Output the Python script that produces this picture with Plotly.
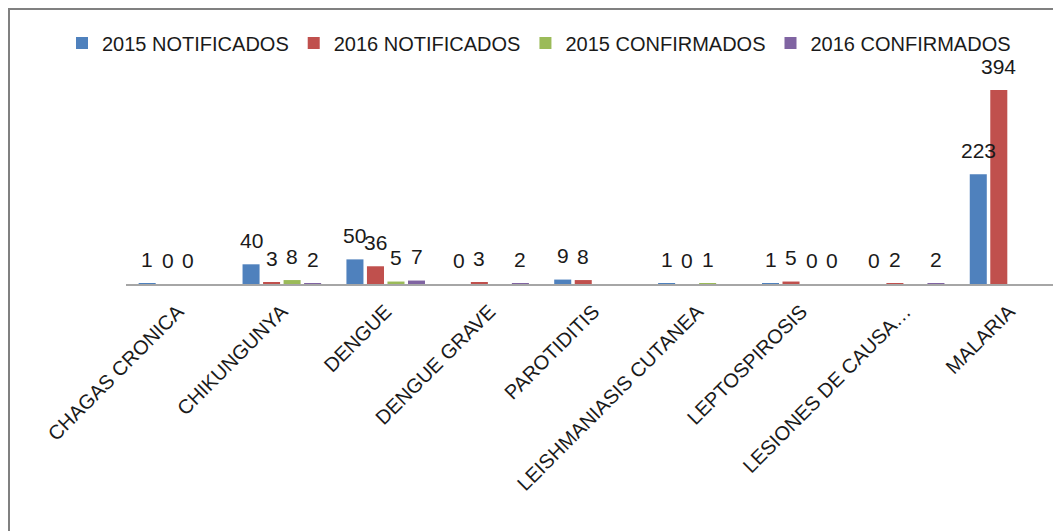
import plotly.graph_objects as go

categories = ["CHAGAS CRONICA", "CHIKUNGUNYA", "DENGUE", "DENGUE GRAVE", "PAROTIDITIS",
              "LEISHMANIASIS CUTANEA", "LEPTOSPIROSIS", "LESIONES DE CAUSA…", "MALARIA"]
series_names = ["2015 NOTIFICADOS", "2016 NOTIFICADOS", "2015 CONFIRMADOS", "2016 CONFIRMADOS"]
notif_2015 = [1, 40, 50, 0, 9, 1, 1, 0, 223]
notif_2016 = [0, 3, 36, 3, 8, 0, 5, 2, 394]
conf_2015 = [0, 8, 5, None, None, 1, 0, None, None]
conf_2016 = [None, 2, 7, 2, None, None, 0, 2, None]
colors = ["#4F81BD", "#C0504D", "#9BBB59", "#8064A2"]

series = [notif_2015, notif_2016, conf_2015, conf_2016]

# the page body has an 8px margin, so the figure is drawn offset by 8px
W, H = 1061, 531
ML, MR, MT, MB = 118, 8, 52, 255
BARGAP, GROUPGAP = 0.21, 0.17
font_family = "Liberation Sans, Arial, sans-serif"

fig = go.Figure()
for name, vals, col in zip(series_names, series, colors):
    fig.add_trace(go.Bar(
        x=categories, y=vals, name=name,
        marker=dict(color=col, line=dict(width=0)),
    ))

# data labels placed above each bar of its group
n = len(series)
slot = (1 - BARGAP) / n
annotations = []
for k, vals in enumerate(series):
    off = -(1 - BARGAP) / 2 + (k + 0.5) * slot
    for i, v in enumerate(vals):
        if v is None:
            continue
        annotations.append(dict(
            x=i + off, y=v, xref="x", yref="y", text=str(v), showarrow=False,
            yanchor="middle", xanchor="center", yshift=24,
            font=dict(size=21, color="#1a1a1a", family=font_family),
        ))

plot_h = H - MT - MB
plot_w = W - ML - MR
frame = dict(type="rect", xref="paper", yref="paper",
             x0=(1 - ML) / plot_w, x1=(W + 20 - ML) / plot_w,
             y0=-(H + 20 - (H - MB)) / plot_h, y1=((H - MB) - 1) / plot_h,
             line=dict(color="#808080", width=2), fillcolor="rgba(0,0,0,0)", layer="below")

fig.update_layout(
    width=W, height=H,
    margin=dict(l=ML, r=MR, t=MT, b=MB, pad=0),
    barmode="group", bargap=BARGAP, bargroupgap=GROUPGAP,
    plot_bgcolor="white", paper_bgcolor="white",
    font=dict(family=font_family, color="#1a1a1a"),
    showlegend=True,
    legend=dict(orientation="h", x=(54 - ML) / plot_w, xanchor="left",
                y=1 + 17 / plot_h, yanchor="middle",
                font=dict(size=20, color="#1a1a1a"), itemwidth=30, bgcolor="rgba(0,0,0,0)",
                traceorder="normal"),
    xaxis=dict(type="category", tickangle=-45, tickfont=dict(size=20, color="#1a1a1a"),
               ticklabelstandoff=6,
               showline=True, linecolor="#A6A6A6", linewidth=2, ticks="", showgrid=False,
               range=[-0.5, len(categories) - 0.5]),
    yaxis=dict(visible=False, range=[0, 394 * plot_h / 194], showgrid=False, zeroline=False),
    annotations=annotations,
    shapes=[frame],
)

fig.write_html("out.html")
